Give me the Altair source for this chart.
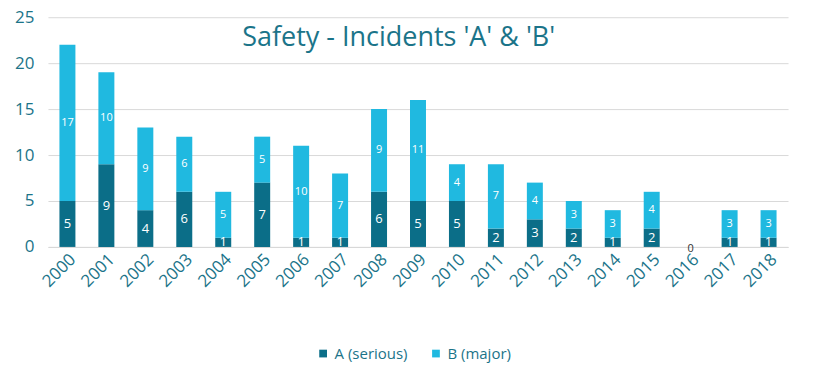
import altair as alt
import pandas as pd

years = [str(y) for y in range(2000, 2019)]
a_serious = [5, 9, 4, 6, 1, 7, 1, 1, 6, 5, 5, 2, 3, 2, 1, 2, 0, 1, 1]
b_major = [17, 10, 9, 6, 5, 5, 10, 7, 9, 11, 4, 7, 4, 3, 3, 4, 0, 3, 3]
series_names = ["A (serious)", "B (major)"]
colors = ["#0b6e88", "#20b9e0"]
teal = "#1b7489"

rows = []
for i, y in enumerate(years):
    a, b = a_serious[i], b_major[i]
    rows.append({"year": y, "series": series_names[0], "value": a, "y0": 0, "y1": a})
    rows.append({"year": y, "series": series_names[1], "value": b, "y0": a, "y1": a + b})
df = pd.DataFrame(rows)
df["mid"] = (df["y0"] + df["y1"]) / 2

x = alt.X("year:N", title=None, axis=alt.Axis(labelAngle=-45, labelFontSize=17, labelColor=teal,
                                             ticks=False, domainColor="#d9d9d9", labelPadding=4,
                                             labelFont="Open Sans"))

yscale = alt.Scale(domain=[0, 25], nice=False)

bars = alt.Chart(df).mark_bar(size=16).encode(
    x=x,
    y=alt.Y("y0:Q", title=None, scale=yscale,
            axis=alt.Axis(values=[0, 5, 10, 15, 20, 25], labelFontSize=17, labelColor=teal,
                          ticks=False, domain=False, gridColor="#d9d9d9", labelPadding=14,
                          labelFont="Open Sans")),
    y2="y1:Q",
    color=alt.Color("series:N", scale=alt.Scale(domain=series_names, range=colors),
                    legend=alt.Legend(title=None, orient="none", legendX=268, legendY=329,
                                      direction="horizontal", symbolType="square", symbolSize=60,
                                      labelFontSize=15, labelColor=teal, labelFont="Open Sans",
                                      columnPadding=20, symbolStrokeWidth=0)),
)

labels_a = alt.Chart(df).transform_filter(
    (alt.datum.series == series_names[0]) & (alt.datum.value > 0)
).mark_text(color="white", fontSize=13, font="Open Sans", baseline="middle").encode(
    x=x, y=alt.Y("mid:Q", scale=yscale), text="value:Q"
)
labels_b = alt.Chart(df).transform_filter(
    (alt.datum.series == series_names[1]) & (alt.datum.value > 0)
).mark_text(color="white", fontSize=11, font="Open Sans", baseline="middle").encode(
    x=x, y=alt.Y("mid:Q", scale=yscale), text="value:Q"
)
labels_zero = alt.Chart(df).transform_filter(
    (alt.datum.series == series_names[0]) & (alt.datum.value == 0)
).mark_text(color="#333333", fontSize=11, font="Open Sans", baseline="middle", dy=2).encode(
    x=x, y=alt.Y("mid:Q", scale=yscale), text="value:Q"
)

chart = alt.layer(bars, labels_a, labels_b, labels_zero).properties(
    width=741, height=230,
    title=alt.TitleParams("Safety - Incidents 'A' & 'B'", anchor="start", dx=228, dy=44, offset=0,
                          fontSize=27, fontWeight="normal", color=teal, font="Open Sans"),
    autosize=alt.AutoSizeParams(type="none"),
    padding={"left": 40, "top": 9, "right": 30, "bottom": 130},
).configure_view(stroke=None)

chart.save("out.html", embed_options={"renderer": "svg", "actions": False})
